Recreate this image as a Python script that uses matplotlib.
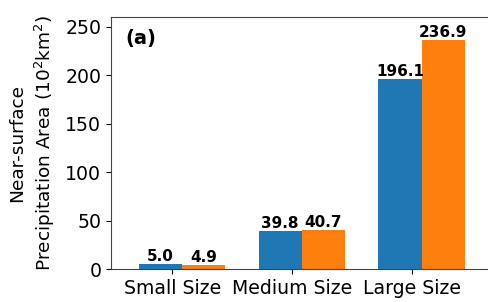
import numpy as np
import matplotlib
matplotlib.use('Agg')
import matplotlib.pyplot as plt

categories = ['Small Size', 'Medium Size', 'Large Size']
series_a = [5.0, 39.8, 196.1]
series_b = [4.9, 40.7, 236.9]

x = np.arange(len(categories))
width = 0.36

fig = plt.figure(figsize=(4.88, 3.02), dpi=100)
# axes runs past the right edge of the figure, as in the reference crop
ax = fig.add_axes([111 / 488, 1 - 269.3 / 302, 391 / 488, 252 / 302])

b1 = ax.bar(x - 0.10, series_a, width, color='#1f77b4')
b2 = ax.bar(x + 0.26, series_b, width, color='#ff7f0e')

for bars, vals in ((b1, series_a), (b2, series_b)):
    for r, v in zip(bars, vals):
        ax.annotate('%.1f' % v, (r.get_x() + r.get_width() / 2, r.get_height()),
                    xytext=(0, 0), textcoords='offset points',
                    ha='center', va='bottom', fontsize=11, fontweight='bold')

ax.set_xticks(x)
ax.set_xticklabels(categories, fontsize=13.6)
ax.set_xlim(-0.51, 2.75)
ax.set_ylim(0, 260)
ax.set_yticks([0, 50, 100, 150, 200, 250])
ax.tick_params(axis='y', labelsize=13.6)
ax.set_ylabel('Near-surface\nPrecipitation Area (10$^2$km$^2$)', fontsize=13.3,
              linespacing=1.35, labelpad=6)
ax.text(0.036, 0.955, '(a)', transform=ax.transAxes, fontsize=14,
        fontweight='bold', va='top', ha='left')

ax.spines['right'].set_visible(False)
for s in ax.spines.values():
    s.set_color('#444444')

fig.savefig('out.png', dpi=100)
